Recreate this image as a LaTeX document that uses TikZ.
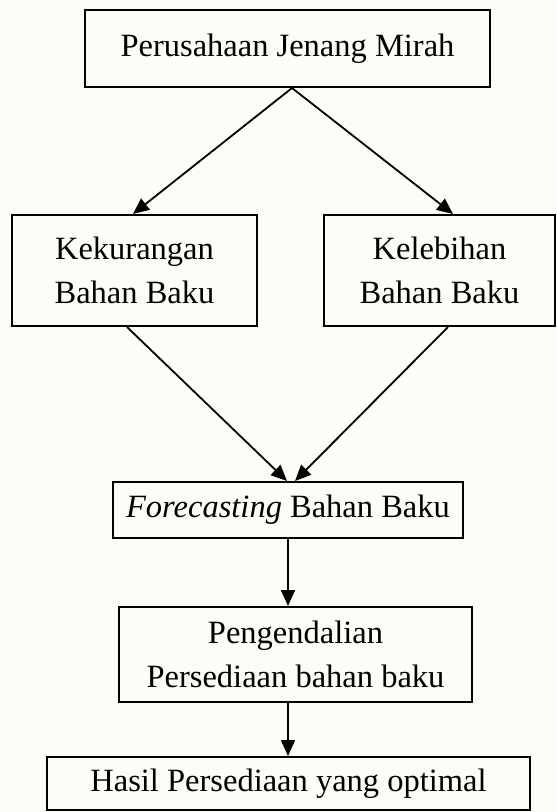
\documentclass[tikz,border=0pt]{standalone}
\usepackage{fontspec}
\setmainfont{Liberation Serif}
\usetikzlibrary{arrows.meta}
\definecolor{bgcream}{RGB}{253,253,248}
\begin{document}
\begin{tikzpicture}[x=1pt,y=-1pt,
  box/.style={draw=black, line width=2pt, rectangle, inner sep=0pt, align=center,
    font=\fontsize{32.5}{44}\selectfont},
  arr/.style={line width=1.8pt, -{Triangle[length=16pt,width=14pt]}}]
\fill[bgcream] (0,0) rectangle (557,812);
\useasboundingbox (0,0) rectangle (557,812);
\node[box, minimum width=405pt, minimum height=77pt] (b1) at (287.5,48.5) {Perusahaan Jenang Mirah};
\node[box, minimum width=245pt, minimum height=111pt] (b2) at (134.5,270.5) {Kekurangan\\Bahan Baku};
\node[box, minimum width=231pt, minimum height=111pt] (b3) at (439.5,270.5) {Kelebihan\\Bahan Baku};
\node[box, minimum width=350pt, minimum height=56pt] (b4) at (288,510) {\textit{Forecasting} Bahan Baku};
\node[box, minimum width=353pt, minimum height=95pt] (b5) at (295.5,654.5) {Pengendalian\\Persediaan bahan baku};
\node[box, minimum width=483pt, minimum height=53pt] (b6) at (288.5,783.5) {Hasil Persediaan yang optimal};
\draw[arr] ([xshift=4.5pt]b1.south) -- ([xshift=-1.5pt]b2.north);
\draw[arr] ([xshift=4.5pt]b1.south) -- ([xshift=13.5pt]b3.north);
\draw[arr] ([xshift=-7.5pt]b2.south) -- ([xshift=-1pt]b4.north);
\draw[arr] ([xshift=8.5pt]b3.south) -- ([xshift=7pt]b4.north);
\draw[arr] (b4.south) -- ([xshift=-7.5pt]b5.north);
\draw[arr] ([xshift=-7.5pt]b5.south) -- ([xshift=-0.5pt]b6.north);
\end{tikzpicture}
\end{document}
